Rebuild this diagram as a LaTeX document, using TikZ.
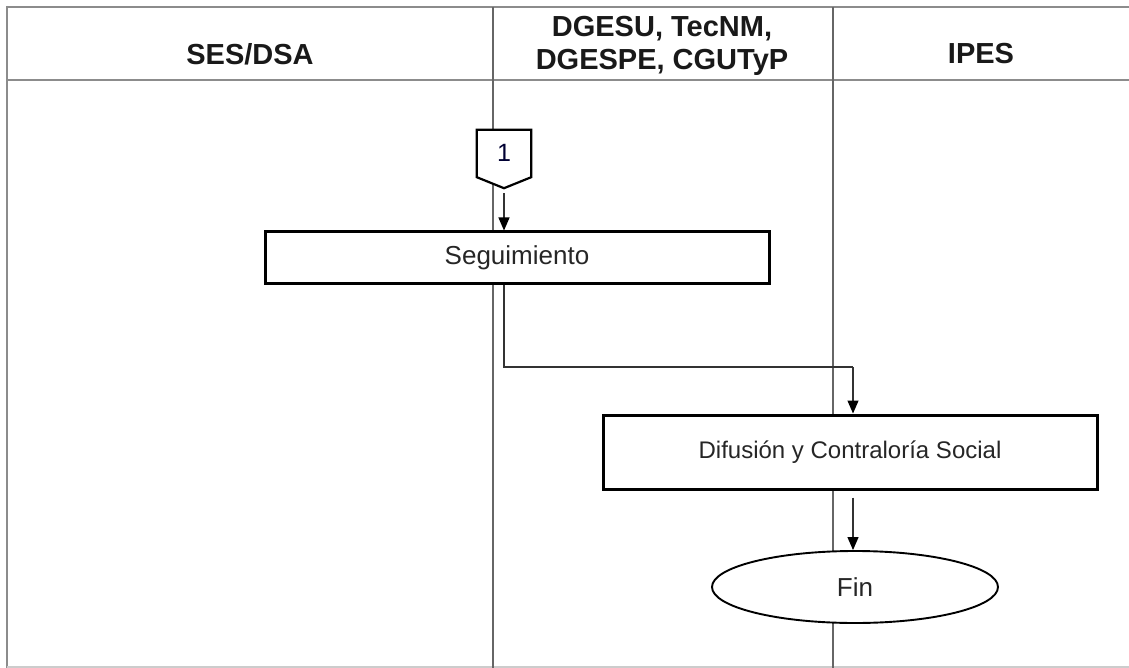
\documentclass[tikz,border=0pt]{standalone}
\usepackage{fontspec}
\setmainfont{Liberation Sans}
\usetikzlibrary{arrows.meta,shapes.geometric,calc}
\begin{document}
\begin{tikzpicture}[x=1pt,y=-1pt,
  frameline/.style={draw=black!45,line width=2.2pt},
  laneline/.style={draw=black!60,line width=1.3pt},
  hdr/.style={font=\fontsize{29}{33}\selectfont\bfseries,text=black!90,inner sep=0pt},
  procbox/.style={draw=black,line width=3pt,fill=white,inner sep=0pt,text=black!85},
  flow/.style={draw=black!80,line width=1.2pt,-{Triangle[length=13pt,width=11pt,color=black]}},
  flowline/.style={draw=black!80,line width=1.2pt}]
\useasboundingbox (0,0) rectangle (1129,668);
% frame
\draw[frameline] (7,7) -- (1129,7);
\draw[frameline] (7,80) -- (1129,80);
\draw[frameline] (7,6) -- (7,668);
\draw[draw=black!20,line width=1.5pt] (7,667) -- (1129,667);
\draw[laneline] (493,7) -- (493,668);
\draw[laneline] (833,7) -- (833,668);
% headers
\node[hdr] (h1) at (250,54) {SES/DSA};
\node[hdr,anchor=base] (h2a) at (662,37) {DGESU, TecNM,};
\node[hdr,anchor=base] (h2b) at (662,70) {DGESPE, CGUTyP};
\node[hdr] (h3) at (981,54) {IPES};
% off-page connector
\node[minimum width=54pt,minimum height=58pt,inner sep=0pt] (c1) at (504,159) {};
\draw[draw=black,line width=2.2pt,fill=white,line join=miter]
  (c1.north west) -- (c1.north east) -- ([yshift=11pt]c1.south east)
  -- (c1.south) -- ([yshift=11pt]c1.south west) -- cycle;
\node[font=\fontsize{25}{29}\selectfont,text=black!80!blue] (c1t) at (504,153) {1};
% process boxes
\node[procbox,minimum width=504pt,minimum height=51pt,
  font=\fontsize{26}{30}\selectfont] (seg) at (517,257.5) {Seguimiento};
\node[procbox,minimum width=494pt,minimum height=74pt,
  font=\fontsize{24}{28}\selectfont] (dif) at (850,452) {Difusión y Contraloría Social};
\node[ellipse,draw=black,line width=1.9pt,fill=white,minimum width=286pt,minimum height=72pt,
  inner sep=0pt,text=black!85,font=\fontsize{26}{30}\selectfont] (fin) at (855,587) {Fin};
% connectors
\coordinate (j) at (853,367);
\draw[flow] ([yshift=-5pt]c1.south) -- (seg.north -| c1);
\draw[flowline] (seg.south -| c1) |- (j);
\draw[flow] (j) -- (dif.north -| j);
\draw[flow] ([yshift=-7pt]dif.south -| j) -- (fin.north -| j);
\end{tikzpicture}
\end{document}
